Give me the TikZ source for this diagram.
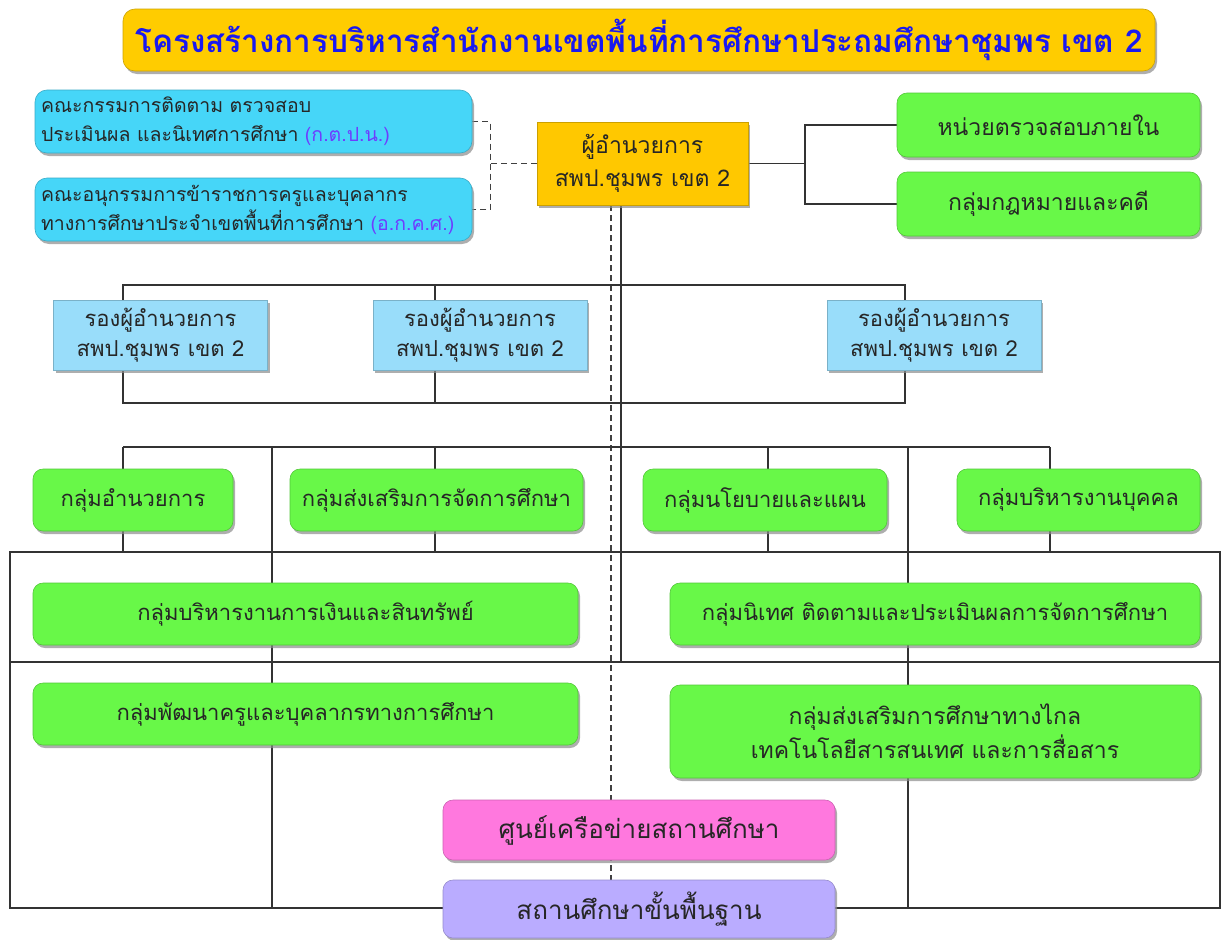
\documentclass[tikz,border=0pt]{standalone}
\usepackage{fontspec}
\newfontfamily\thaifont[Script=Thai]{Loma}
\usetikzlibrary{positioning,shadows,backgrounds}
\definecolor{titleyellow}{RGB}{255,204,0}
\definecolor{chiefyellow}{RGB}{255,200,0}
\definecolor{boardcyan}{RGB}{70,214,248}
\definecolor{deputyblue}{RGB}{153,221,250}
\definecolor{groupgreen}{RGB}{104,248,72}
\definecolor{hubpink}{RGB}{255,120,222}
\definecolor{basepurple}{RGB}{186,172,255}
\definecolor{titleblue}{RGB}{25,25,240}
\definecolor{abbrblue}{RGB}{110,60,255}
\begin{document}
\begin{tikzpicture}[x=1pt, y=-1pt, node distance=88pt,
	font=\thaifont\fontsize{22}{30}\selectfont,
	box/.style={draw=#1!80!black, line width=.6pt, fill=#1, text=black!85, align=center, inner sep=0pt,
		drop shadow={shadow xshift=2pt, shadow yshift=-3pt, fill=black!45, opacity=.7}},
	group/.style={box=groupgreen, rounded corners=10pt, minimum height=62pt},
	board/.style={box=boardcyan, rounded corners=12pt, minimum width=437pt, minimum height=63pt,
		text width=425pt, align=left, font=\thaifont\fontsize{19.5}{29}\selectfont},
	deputy/.style={box=deputyblue, minimum width=214pt, minimum height=70pt},
	link/.style={line width=1.6pt, black!80},
	guide/.style={line width=1.3pt, black!75, dash pattern=on 6pt off 4pt}]
	\useasboundingbox (0,0) rectangle (1224,940);
	\node[box=titleyellow, rounded corners=12pt, minimum width=1032pt, minimum height=62pt,
		font=\thaifont\bfseries\fontsize{31.5}{34}\selectfont, text=titleblue] (T) at (639,40)
		{โครงสร้างการบริหารสำนักงานเขตพื้นที่การศึกษาประถมศึกษาชุมพร เขต 2};
	\node[board] (K1) at (253.5,121.5) {คณะกรรมการติดตาม ตรวจสอบ\\ประเมินผล และนิเทศการศึกษา \textcolor{abbrblue}{(ก.ต.ป.น.)}};
	\node[board, below of=K1] (K2) {คณะอนุกรรมการข้าราชการครูและบุคลากร\\ทางการศึกษาประจำเขตพื้นที่การศึกษา \textcolor{abbrblue}{(อ.ก.ค.ศ.)}};
	\node[box=chiefyellow, minimum width=211pt, minimum height=83pt,
		font=\thaifont\fontsize{23}{33}\selectfont] (D) at (642.5,163.5) {ผู้อำนวยการ\\สพป.ชุมพร เขต 2};
	\node[group, minimum width=303pt, minimum height=64pt, font=\thaifont\fontsize{23}{30}\selectfont] (R1) at (1048.5,125) {หน่วยตรวจสอบภายใน};
	\node[group, minimum width=303pt, minimum height=64pt, font=\thaifont\fontsize{23}{30}\selectfont,
		below of=R1, node distance=79pt] (R2) {กลุ่มกฎหมายและคดี};
	\node[deputy] (V1) at (160.5,335) {รองผู้อำนวยการ\\สพป.ชุมพร เขต 2};
	\node[deputy] (V2) at (480,335) {รองผู้อำนวยการ\\สพป.ชุมพร เขต 2};
	\node[deputy] (V3) at (934,335) {รองผู้อำนวยการ\\สพป.ชุมพร เขต 2};
	\node[group, minimum width=200pt] (G1) at (133,500) {กลุ่มอำนวยการ};
	\node[group, minimum width=293pt] (G2) at (436.5,500) {กลุ่มส่งเสริมการจัดการศึกษา};
	\node[group, minimum width=244pt] (G3) at (765,500) {กลุ่มนโยบายและแผน};
	\node[group, minimum width=243pt] (G4) at (1078.5,500) {กลุ่มบริหารงานบุคคล};
	\node[group, minimum width=545pt] (G5) at (305.5,614) {กลุ่มบริหารงานการเงินและสินทรัพย์};
	\node[group, minimum width=530pt] (G6) at (935,614) {กลุ่มนิเทศ ติดตามและประเมินผลการจัดการศึกษา};
	\node[group, minimum width=545pt] (G7) at (305.5,714) {กลุ่มพัฒนาครูและบุคลากรทางการศึกษา};
	\node[group, minimum width=530pt, minimum height=93pt, font=\thaifont\fontsize{23}{34}\selectfont]
		(G8) at (935,731.5) {กลุ่มส่งเสริมการศึกษาทางไกล\\เทคโนโลยีสารสนเทศ และการสื่อสาร};
	\node[box=hubpink, rounded corners=10pt, minimum width=392pt, minimum height=60pt,
		font=\thaifont\fontsize{26}{30}\selectfont] (P) at (639,830) {ศูนย์เครือข่ายสถานศึกษา};
	\node[box=basepurple, rounded corners=10pt, minimum width=392pt, minimum height=58pt,
		font=\thaifont\fontsize{26}{30}\selectfont, below of=P, node distance=79pt] (B) {สถานศึกษาขั้นพื้นฐาน};
	\begin{scope}[on background layer]
		\draw[guide] (K1.east) -- ++(18,0) coordinate (Kb) |- (K2.east);
		\draw[guide] (D.west) -- (D.west -| Kb);
		\draw[link] (D.east) -- (805,163.5) coordinate (J);
		\draw[link] (R1.west) -| (J) |- (R2.west);
		\draw[link] (D.south -| 621,0) -- (621,662);
		\draw[guide] (D.south -| 611,0) -- (B.north -| 611,0);
		\draw[link] (123,285) rectangle (905,403);
		\draw[link] (435,285) -- (435,403);
		\draw[link] (123,447) -- (1050,447);
		\draw[link] (123,447) -- (123,552);
		\draw[link] (435,447) -- (435,552);
		\draw[link] (768,447) -- (768,552);
		\draw[link] (1050,447) -- (1050,552);
		\draw[link] (272,447) -- (272,908);
		\draw[link] (908,447) -- (908,908);
		\draw[link] (10,552) rectangle (1220,908);
		\draw[link] (10,662) -- (1220,662);
	\end{scope}
\end{tikzpicture}
\end{document}
